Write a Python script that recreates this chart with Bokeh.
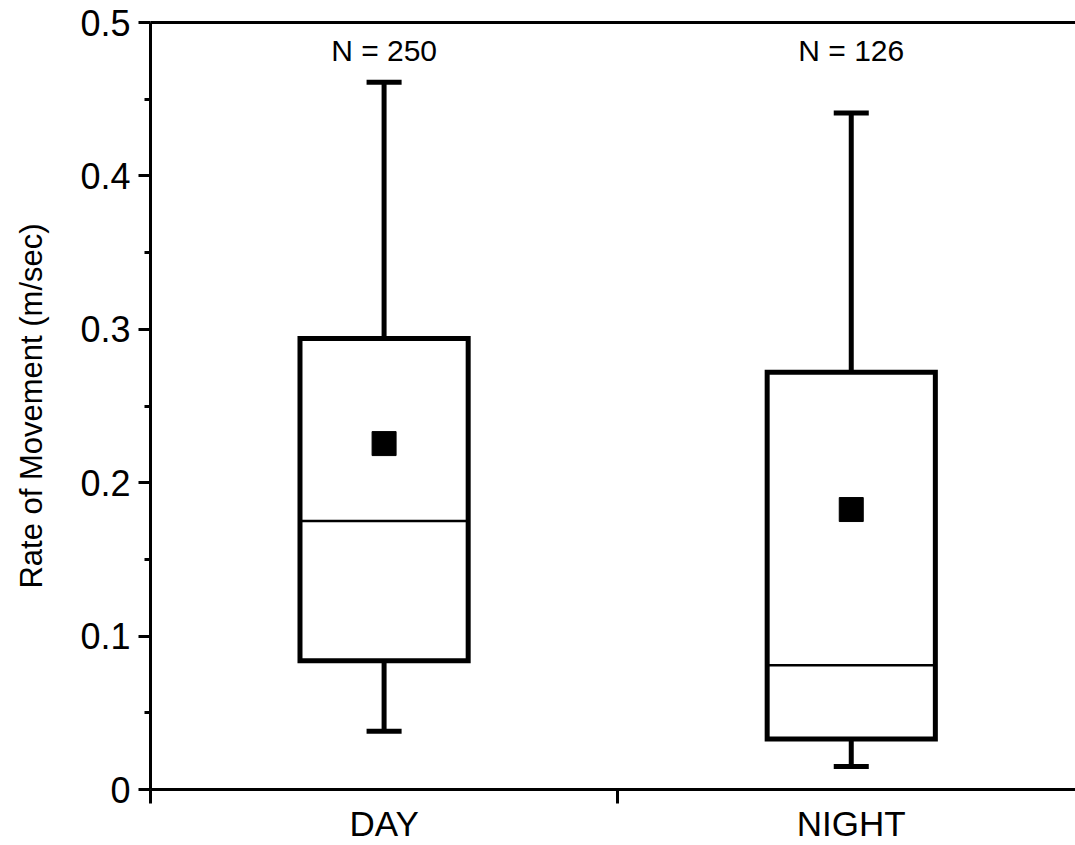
from bokeh.plotting import figure
from bokeh.models import FixedTicker, LinearAxis, Range1d, ColumnDataSource
from bokeh.core.properties import value
from bokeh.embed import file_html
from bokeh.resources import INLINE

categories = ["DAY", "NIGHT"]
cat_pos = [1, 2]
n_labels = ["N = 250", "N = 126"]
q1 = [0.084, 0.033]
median = [0.175, 0.081]
q3 = [0.294, 0.272]
mean = [0.2255, 0.1825]
whisker_lo = [0.038, 0.015]
whisker_hi = [0.461, 0.441]
y_ticks = [0, 0.1, 0.2, 0.3, 0.4, 0.5]
y_tick_labels = ["0", "0.1", "0.2", "0.3", "0.4", "0.5"]
y_minor = [0.05, 0.15, 0.25, 0.35, 0.45]

FONT = "Liberation Sans"
box_w = 0.36
cap_w = 0.075

p = figure(width=1075, height=845, output_backend="svg", toolbar_location=None,
           x_range=Range1d(0.5, 2.48), y_range=Range1d(0, 0.5),
           min_border_left=150, min_border_right=0, min_border_top=22,
           min_border_bottom=56)
p.outline_line_color = None
p.grid.visible = False
p.background_fill_color = "white"
p.border_fill_color = "white"

src = ColumnDataSource(dict(
    x=cat_pos, q1=q1, med=median, q3=q3, mean=mean, lo=whisker_lo, hi=whisker_hi,
    left=[c - box_w / 2 for c in cat_pos], right=[c + box_w / 2 for c in cat_pos],
    cl=[c - cap_w / 2 for c in cat_pos], cr=[c + cap_w / 2 for c in cat_pos],
    n=n_labels, ny=[0.482] * len(cat_pos)))

# whiskers
p.segment(x0="x", y0="q3", x1="x", y1="hi", source=src, line_color="black", line_width=5)
p.segment(x0="x", y0="lo", x1="x", y1="q1", source=src, line_color="black", line_width=5)
p.segment(x0="cl", y0="hi", x1="cr", y1="hi", source=src, line_color="black", line_width=5)
p.segment(x0="cl", y0="lo", x1="cr", y1="lo", source=src, line_color="black", line_width=5)
# boxes
p.quad(left="left", right="right", bottom="q1", top="q3", source=src,
       fill_color="white", line_color="black", line_width=5, line_join="miter")
p.segment(x0="left", y0="med", x1="right", y1="med", source=src, line_color="black", line_width=2.5)
# means
p.scatter(x="x", y="mean", source=src, marker="square", size=24,
          fill_color="black", line_color="black")
# N labels
p.text(x="x", y="ny", text="n", source=src, text_align="center",
       text_baseline="middle", text_font=value(FONT), text_font_size="30px",
       text_color="black")

# x axis
xa = p.xaxis[0]
xa.ticker = FixedTicker(ticks=cat_pos, minor_ticks=[0.5, 1.5])
xa.major_label_overrides = {c: lab for c, lab in zip(cat_pos, categories)}
xa.major_tick_out = 0
xa.major_tick_in = 0
xa.minor_tick_out = 14
xa.minor_tick_in = 0
xa.minor_tick_line_width = 3
xa.axis_line_width = 3
xa.major_label_text_font = FONT
xa.major_label_text_font_size = "35px"
xa.major_label_text_color = "black"
xa.major_label_standoff = 0

# y axis
ya = p.yaxis[0]
ya.ticker = FixedTicker(ticks=y_ticks, minor_ticks=y_minor)
ya.major_label_overrides = {t: lab for t, lab in zip(y_ticks, y_tick_labels)}
ya.major_tick_out = 12
ya.major_tick_in = 0
ya.minor_tick_out = 6
ya.minor_tick_in = 0
ya.major_tick_line_width = 3
ya.minor_tick_line_width = 3
ya.axis_line_width = 3
ya.major_label_text_font = FONT
ya.major_label_text_font_size = "36px"
ya.major_label_text_color = "black"
ya.major_label_standoff = 8
ya.axis_label = "Rate of Movement (m/sec)"
ya.axis_label_text_font = FONT
ya.axis_label_text_font_size = "31px"
ya.axis_label_text_font_style = "normal"
ya.axis_label_text_color = "black"
ya.axis_label_standoff = 28

# top border
top = LinearAxis(ticker=FixedTicker(ticks=[]), axis_line_width=3,
                 major_label_text_font_size="0px", major_tick_out=0,
                 minor_tick_out=0)
p.add_layout(top, "above")

open("out.html", "w").write(file_html(p, INLINE))
